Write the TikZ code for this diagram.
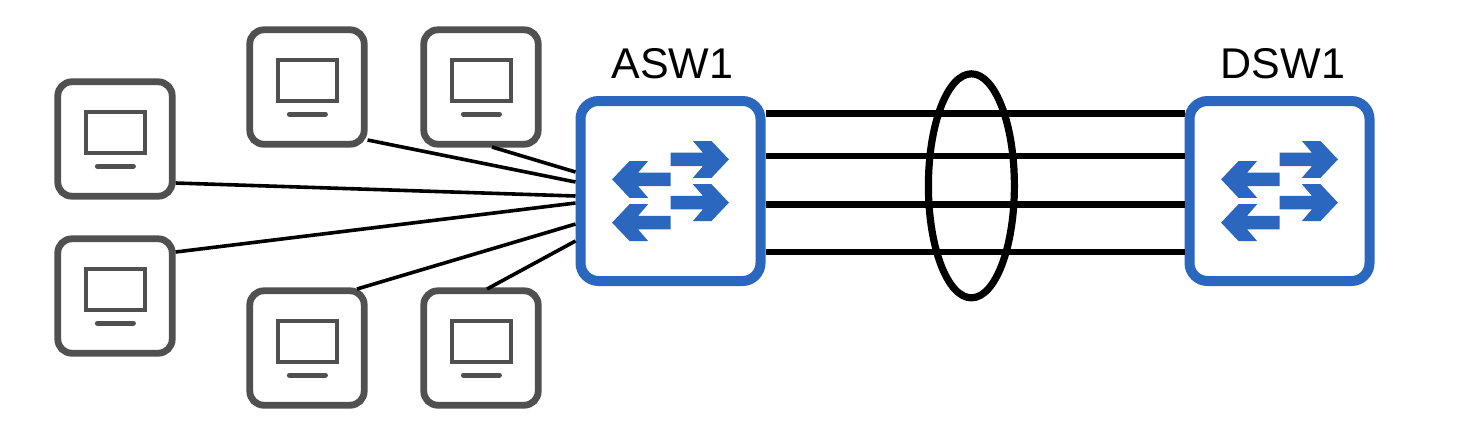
\documentclass[tikz,border=0pt]{standalone}
\usepackage{fontspec}
\setmainfont{Liberation Sans}
\usetikzlibrary{shapes.geometric}
\definecolor{swblue}{HTML}{2B67BE}
\definecolor{pcgray}{HTML}{505050}
\tikzset{
	pcbox/.style={draw=pcgray,line width=3.4pt,rounded corners=7pt,minimum size=57.2pt,inner sep=0pt,fill=white},
	swbox/.style={draw=swblue,line width=5pt,rounded corners=9pt,minimum size=90pt,inner sep=0pt,fill=white},
	lagring/.style={draw=black,line width=3.6pt,ellipse,minimum width=43pt,minimum height=112pt,inner sep=0pt},
	swlabel/.style={font=\fontsize{21.5pt}{24pt}\selectfont,inner sep=0pt},
	access/.style={black,line width=1.8pt},
	trunk/.style={black,line width=3.3pt},
	pc/.pic={
		\draw[pcgray,line width=2.2pt] (-14.6,-13.4) rectangle (14.9,6.9);
		\draw[pcgray,line width=2.5pt,line cap=round] (-8.8,13.5) -- (9.2,13.5);
	},
	switcharrows/.pic={
		\foreach \y in {-15.8,5.8}
			\fill[swblue] (0,\y-3.4) -- (16.2,\y-3.4) -- (11.2,\y-9.2) -- (20.5,\y-9.2) -- (29.2,\y) -- (20.5,\y+9.2) -- (11.2,\y+9.2) -- (16.2,\y+3.4) -- (0,\y+3.4) -- cycle;
		\foreach \y in {-5.8,15.8}
			\fill[swblue] (0,\y-3.4) -- (-16.2,\y-3.4) -- (-11.2,\y-9.2) -- (-20.5,\y-9.2) -- (-29.2,\y) -- (-20.5,\y+9.2) -- (-11.2,\y+9.2) -- (-16.2,\y+3.4) -- (0,\y+3.4) -- cycle;
	}
}
\begin{document}
\begin{tikzpicture}[x=1pt,y=-1pt]
	\useasboundingbox (0,0) rectangle (730.5,223.5);
	% end devices
	\node[pcbox] (pc1) at (57.5,69.5) {};
	\node[pcbox] (pc2) at (57.5,148) {};
	\node[pcbox] (pc3) at (153.5,43.5) {};
	\node[pcbox] (pc4) at (240.5,43.5) {};
	\node[pcbox] (pc5) at (153.5,174) {};
	\node[pcbox] (pc6) at (240.5,174) {};
	\foreach \n in {pc1,pc2,pc3,pc4,pc5,pc6}
		\pic at (\n) {pc};
	% switches
	\node[swbox] (asw1) at (335.25,95.5) {};
	\node[swbox] (dsw1) at (639.75,95.5) {};
	\pic at (asw1) {switcharrows};
	\pic at (dsw1) {switcharrows};
	\node[swlabel,anchor=base] (asw1label) at (336.25,39) {ASW1};
	\node[swlabel,anchor=base] (dsw1label) at (641.5,39) {DSW1};
	% links to the devices
	\draw[access] (pc1.east |- 0,91.5) -- (asw1.west |- 0,98);
	\draw[access] (pc2.east |- 0,126) -- (asw1.west |- 0,101.5);
	\draw[access] (pc3.east |- 0,70) -- (asw1.west |- 0,91);
	\draw[access] (246,73.5) -- (asw1.west |- 0,86);
	\draw[access] (178.5,144.5) -- (asw1.west |- 0,112);
	\draw[access] (243.5,144.5) -- (asw1.west |- 0,120.5);
	% bundle between the switches
	\foreach \y in {56.7,78,102.3,126}
		\draw[trunk] (asw1.east |- 0,\y) -- (dsw1.west |- 0,\y);
	\node[lagring] (lag) at (485.7,92.9) {};
\end{tikzpicture}
\end{document}
